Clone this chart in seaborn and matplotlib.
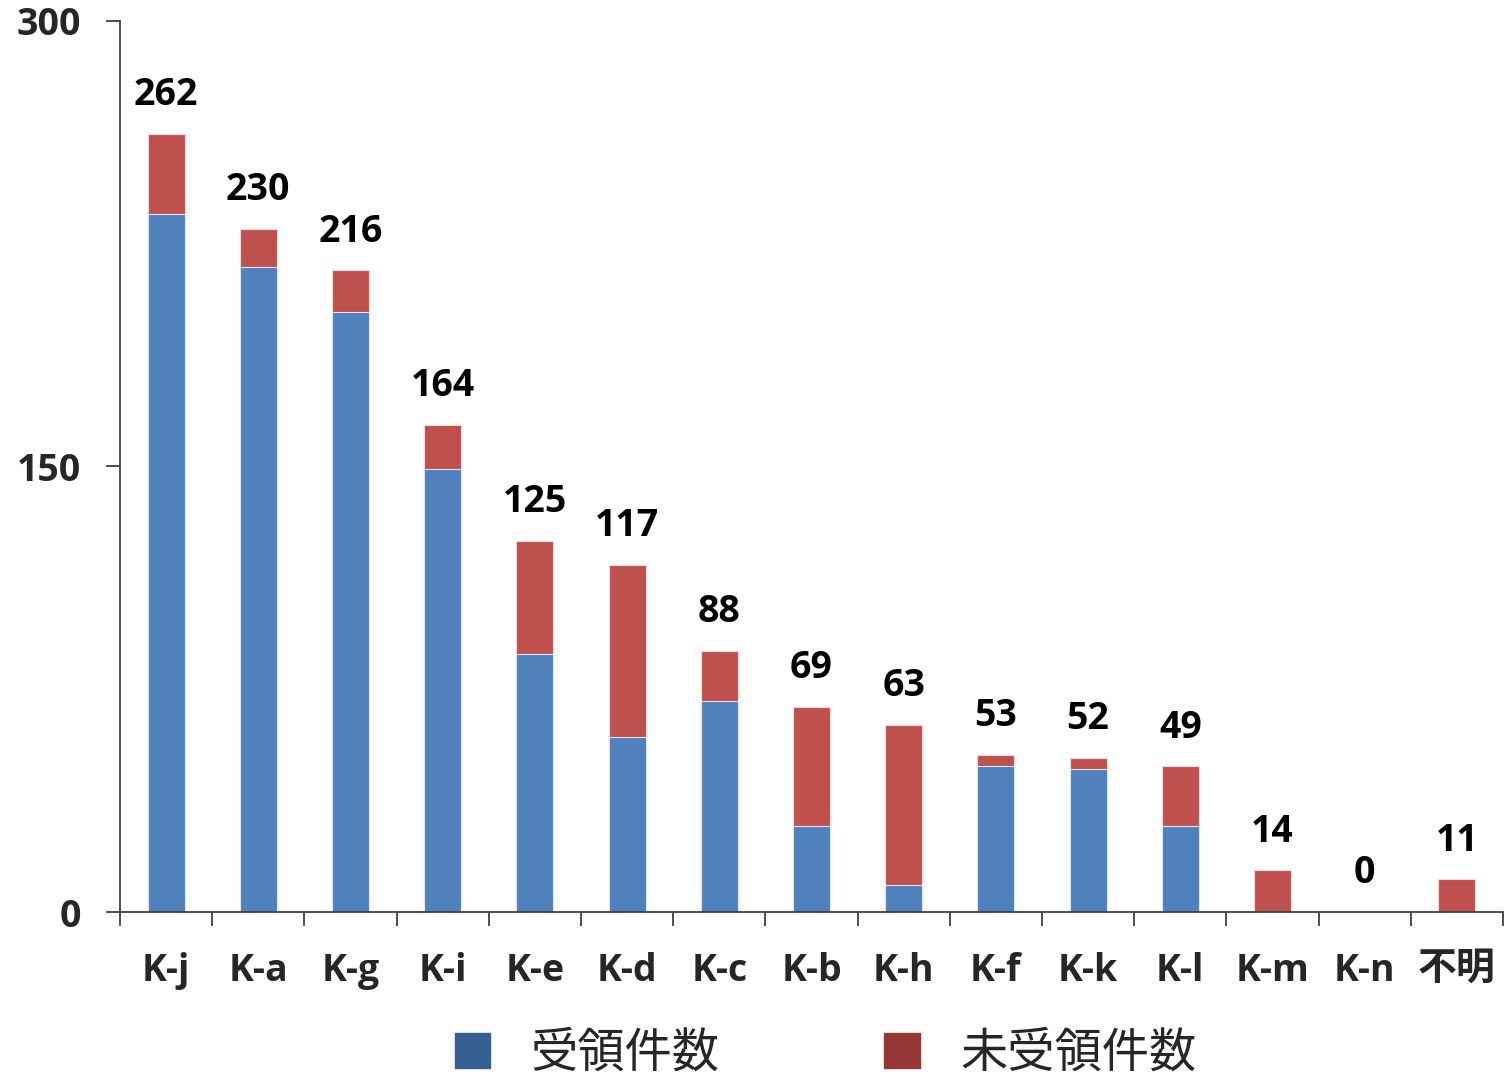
import numpy as np
import pandas as pd
import matplotlib
matplotlib.use("Agg")
import matplotlib.pyplot as plt
import matplotlib.patches as mpatches
import seaborn as sns

# --- data ---
categories = ['K-j', 'K-a', 'K-g', 'K-i', 'K-e', 'K-d', 'K-c', 'K-b',
              'K-h', 'K-f', 'K-k', 'K-l', 'K-m', 'K-n', '不明']
received = [235, 217, 202, 149, 87, 59, 71, 29, 9, 49, 48, 29, 0, 0, 0]
not_received = [27, 13, 14, 15, 38, 58, 17, 40, 54, 4, 4, 20, 14, 0, 11]
y_ticks = [0, 150, 300]
legend_labels = ['受領件数', '未受領件数']

df = pd.DataFrame({'cat': categories, 'recv': received, 'notrecv': not_received})
df['total'] = df['recv'] + df['notrecv']

sns.set_style('white')
plt.rcParams['font.family'] = ['Open Sans', 'Noto Sans CJK JP', 'DejaVu Sans']

BLUE = '#4F81BD'
RED = '#C0504D'
FS = 27

fig = plt.figure(figsize=(15.09, 10.75), dpi=100)
ax = fig.add_axes([0.0795, 0.1516, 0.9165, 0.8289])

# stacked bars: totals in red, received drawn over in blue
sns.barplot(data=df, x='cat', y='total', color=RED, width=0.4, ax=ax,
            edgecolor='#F2DCDB', linewidth=0.8, saturation=1)
sns.barplot(data=df, x='cat', y='recv', color=BLUE, width=0.4, ax=ax,
            edgecolor='#DCE6F2', linewidth=0.8, saturation=1)

for i, t in enumerate(df['total']):
    ax.text(i, t + 13.0, str(t), ha='center', va='center', fontsize=FS,
            fontweight='bold', color='black')

ax.set_ylim(0, 300)
ax.set_xlim(-0.5, len(categories) - 0.5)
ax.set_yticks(y_ticks)
ax.set_yticklabels([str(v) for v in y_ticks], fontsize=FS, fontweight='bold')
ax.set_xticks(range(len(categories)))
ax.set_xticklabels(categories, fontsize=FS, fontweight='bold')
# CJK label needs its own family
for lab in ax.get_xticklabels():
    if lab.get_text() == '不明':
        lab.set_fontfamily(['Noto Sans CJK JP'])
        lab.set_fontsize(28)
        lab.set_y(0.004)
ax.set_xticks(np.arange(-0.5, len(categories), 1.0), minor=True)
ax.tick_params(axis='x', which='major', length=0, pad=29)
ax.tick_params(axis='x', which='minor', length=10, width=1.3, color='#404040',
               direction='out', bottom=True)
ax.tick_params(axis='y', which='major', length=10, width=1.3, color='#404040',
               direction='out', pad=18, left=True)
ax.set_xlabel('')
ax.set_ylabel('')

for s in ['top', 'right']:
    ax.spines[s].set_visible(False)
for s in ['left', 'bottom']:
    ax.spines[s].set_color('#404040')
    ax.spines[s].set_linewidth(1.3)

handles = [mpatches.Patch(color='#376092'), mpatches.Patch(color='#953735')]
fig.legend(handles, legend_labels, loc='center', bbox_to_anchor=(0.547, 0.02),
           ncol=2, frameon=False, prop={'family': 'Noto Sans CJK JP', 'size': 34},
           handlelength=0.75, handleheight=0.75, handletextpad=0.85,
           columnspacing=3.5)

fig.savefig('out.png', dpi=100)
